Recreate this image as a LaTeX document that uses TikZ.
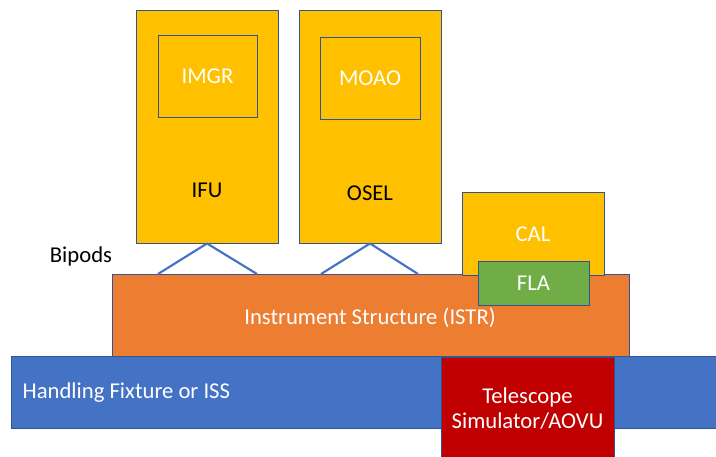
\documentclass[tikz,border=0pt]{standalone}
\usepackage{fontspec}
\setmainfont{Carlito}
\usepackage{tikz}
\usetikzlibrary{positioning}
\definecolor{pptyellow}{HTML}{FFC000}
\definecolor{pptorange}{HTML}{ED7D31}
\definecolor{pptblue}{HTML}{4472C4}
\definecolor{pptred}{HTML}{C00000}
\definecolor{pptgreen}{HTML}{70AD47}
\definecolor{pptedge}{HTML}{2F5597}

\begin{document}
\begin{tikzpicture}[x=0.75pt, y=-0.75pt,
    every node/.style={font=\fontsize{17}{19}\selectfont}]
    \tikzset{blk/.style={rectangle, draw=pptedge, line width=0.7pt, inner sep=0pt,
                         align=center, text=white},
             bipod/.style={draw=pptblue, line width=1.6pt}}
    \useasboundingbox (0,0) rectangle (716,456);
    % base and structure
    \node[blk, fill=pptblue, minimum width=705*0.75pt, minimum height=72*0.75pt]
        (hf) at (364,392) {};
    \node[blk, fill=pptred, minimum width=173*0.75pt, minimum height=103*0.75pt]
        (tsim) at (527.5,408.5) {Telescope\\Simulator/AOVU};
    \node[blk, fill=pptorange, minimum width=517*0.75pt, minimum height=82*0.75pt]
        (istr) at (370.5,315) {};
    \node[text=white] (istrtxt) at (370,318) {Instrument Structure (ISTR)};
    \node[text=white, anchor=west] (hftxt) at (18,393) {Handling Fixture or ISS};
    % instruments
    \node[blk, fill=pptyellow, minimum width=142*0.75pt, minimum height=233*0.75pt]
        (ifu) at (207,126.5) {};
    \node[blk, fill=pptyellow, minimum width=99*0.75pt, minimum height=82*0.75pt]
        (imgr) at (207.5,76) {IMGR};
    \node (ifutxt) at (207,190) {IFU};
    \node[blk, fill=pptyellow, minimum width=142*0.75pt, minimum height=233*0.75pt]
        (osel) at (370,126.5) {};
    \node[blk, fill=pptyellow, minimum width=100*0.75pt, minimum height=82*0.75pt]
        (moao) at (370,78) {MOAO};
    \node (oseltxt) at (370,193) {OSEL};
    \node[blk, fill=pptyellow, minimum width=142*0.75pt, minimum height=83*0.75pt]
        (cal) at (533,233.5) {};
    \node[text=white] (caltxt) at (533,234) {CAL};
    \node[blk, fill=pptgreen, minimum width=111*0.75pt, minimum height=44*0.75pt]
        (fla) at (533.5,283) {FLA};
    % bipods
    \node (bip) at (81,256) {Bipods};
    \coordinate (ifuL) at (158,274);
    \coordinate (ifuR) at (257,274);
    \coordinate (oselL) at (321,274);
    \coordinate (oselR) at (418,274);
    \foreach \a/\b in {ifuL/ifu, oselL/osel}
      \draw[bipod] (\a) -- (\b.south);
    \foreach \a/\b in {ifu/ifuR, osel/oselR}
      \draw[bipod] (\a.south) -- (\b);
  \end{tikzpicture}
\end{document}
